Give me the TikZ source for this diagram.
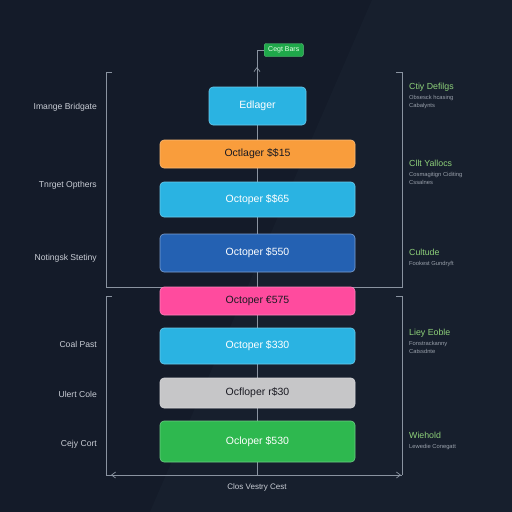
\documentclass[tikz,border=0pt]{standalone}
\usepackage{fontspec}
\setmainfont{Liberation Sans}
\usetikzlibrary{arrows.meta}
\definecolor{bg}{HTML}{141B29}
\definecolor{bgl}{HTML}{18212F}
\definecolor{linec}{HTML}{8A93A0}
\definecolor{cyanb}{HTML}{2AB3E2}
\definecolor{orangeb}{HTML}{F99D3C}
\definecolor{blueb}{HTML}{2461B2}
\definecolor{pinkb}{HTML}{FF4B9E}
\definecolor{grayb}{HTML}{C6C6C8}
\definecolor{greenb}{HTML}{2EB84F}
\definecolor{tagg}{HTML}{1FA84A}
\definecolor{lbl}{HTML}{C9CDD5}
\definecolor{glbl}{HTML}{8ED17A}
\definecolor{sub}{HTML}{9AA1AC}
\definecolor{darktxt}{HTML}{1A1A22}
\begin{document}
\begin{tikzpicture}[x=1pt,y=-1pt,
  barbox/.style={rectangle, rounded corners=4pt, minimum width=195pt, inner sep=0pt, line width=0.6pt, font=\fontsize{10.5}{12}\selectfont},
  leftlbl/.style={anchor=east, text=lbl, font=\fontsize{8.6}{10}\selectfont, inner sep=0pt},
  rightlbl/.style={anchor=north west, text=glbl, font=\fontsize{8.8}{10}\selectfont, inner sep=0pt},
  sublbl/.style={anchor=north west, text=sub, font=\fontsize{5.8}{8.5}\selectfont, inner sep=0pt, align=left},
  guide/.style={draw=linec, line width=0.7pt},
  tip/.style={-{Straight Barb[length=4pt,width=6pt]}}
]
% background
\fill[bg] (0,0) rectangle (512,512);
\fill[bgl, opacity=0.8] (372,0) -- (512,0) -- (512,512) -- (150,512) -- cycle;
\useasboundingbox (0,0) rectangle (512,512);

% guide lines
\coordinate (tagl) at (264,50);
\coordinate (ctop) at (257,50);
\coordinate (cbot) at (257,475);
\draw[guide] (tagl) -- (ctop) -- (cbot);
\draw[guide, tip] (257,80) -- (257,67);

% brackets
\draw[guide] (112,72) -- (106,72) -- (106,287) -- (402,287) -- (402,72) -- (396,72);
\draw[guide] (112,296) -- (106,296) -- (106,475) -- (402,475);
\draw[guide] (396,296) -- (402,296) -- (402,475);
\draw[guide, tip] (120,475) -- (111,475);
\draw[guide, tip] (390,475) -- (401,475);

% tag
\node[fill=tagg, draw=tagg!70!white, rounded corners=2pt, anchor=west, minimum height=12pt, inner xsep=4pt, text=white!90!green, font=\fontsize{7}{8}\selectfont] (tag) at (tagl) {Cegt Bars};

% bars
\node[barbox, fill=cyanb, draw=cyanb!70!white, minimum width=97pt, minimum height=38pt, text=white] (b1) at (257.5,106) {Edlager};
\node[barbox, fill=orangeb, draw=orangeb!70!white, minimum height=28pt, text=darktxt] (b2) at (257.5,154) {Octlager \$\$15};
\node[barbox, fill=cyanb, draw=cyanb!70!white, minimum height=35pt, text=white] (b3) at (257.5,199.5) {Octoper \$\$65};
\node[barbox, fill=blueb, draw=blueb!60!white, minimum height=38pt, text=white] (b4) at (257.5,253) {Octoper \$550};
\node[barbox, fill=pinkb, draw=pinkb!70!white, minimum height=28pt, text=darktxt] (b5) at (257.5,301) {Octoper €575};
\node[barbox, fill=cyanb, draw=cyanb!70!white, minimum height=36pt, text=white] (b6) at (257.5,346) {Octoper \$330};
\node[barbox, fill=grayb, draw=grayb!70!white, minimum height=30pt, text=darktxt] (b7) at (257.5,393) {Ocfloper r\$30};
\node[barbox, fill=greenb, draw=greenb!70!white, minimum height=41pt, text=white] (b8) at (257.5,441.5) {Ocloper \$530};

% left labels
\node[leftlbl] (l1) at (97,107) {Imange Bridgate};
\node[leftlbl] (l2) at (97,185) {Tnrget Opthers};
\node[leftlbl] (l3) at (97,258) {Notingsk Stetiny};
\node[leftlbl] (l4) at (97,344) {Coal Past};
\node[leftlbl] (l5) at (97,394) {Ulert Cole};
\node[leftlbl] (l6) at (97,444) {Cejy Cort};

% right labels
\node[rightlbl] (r1) at (409,83) {Ctiy Defilgs};
\node[sublbl] (s1) at (409,95) {Obsesck hcasing\\Cabalynts};
\node[rightlbl] (r2) at (409,160) {Cllt Yallocs};
\node[sublbl] (s2) at (409,172) {Cosmagitign Ciditing\\Cssalnes};
\node[rightlbl] (r3) at (409,249) {Cultude};
\node[sublbl] (s3) at (409,261) {Fookest Gundryft};
\node[rightlbl] (r4) at (409,329) {Liey Eoble};
\node[sublbl] (s4) at (409,341) {Fonstrackanny\\Catssdnte};
\node[rightlbl] (r5) at (409,432) {Wiehold};
\node[sublbl] (s5) at (409,444) {Lewedie Conegatt};

% bottom label
\node[text=lbl, font=\fontsize{8}{10}\selectfont, inner sep=0pt] (bl) at (257,487) {Clos Vestry Cest};
\end{tikzpicture}
\end{document}
